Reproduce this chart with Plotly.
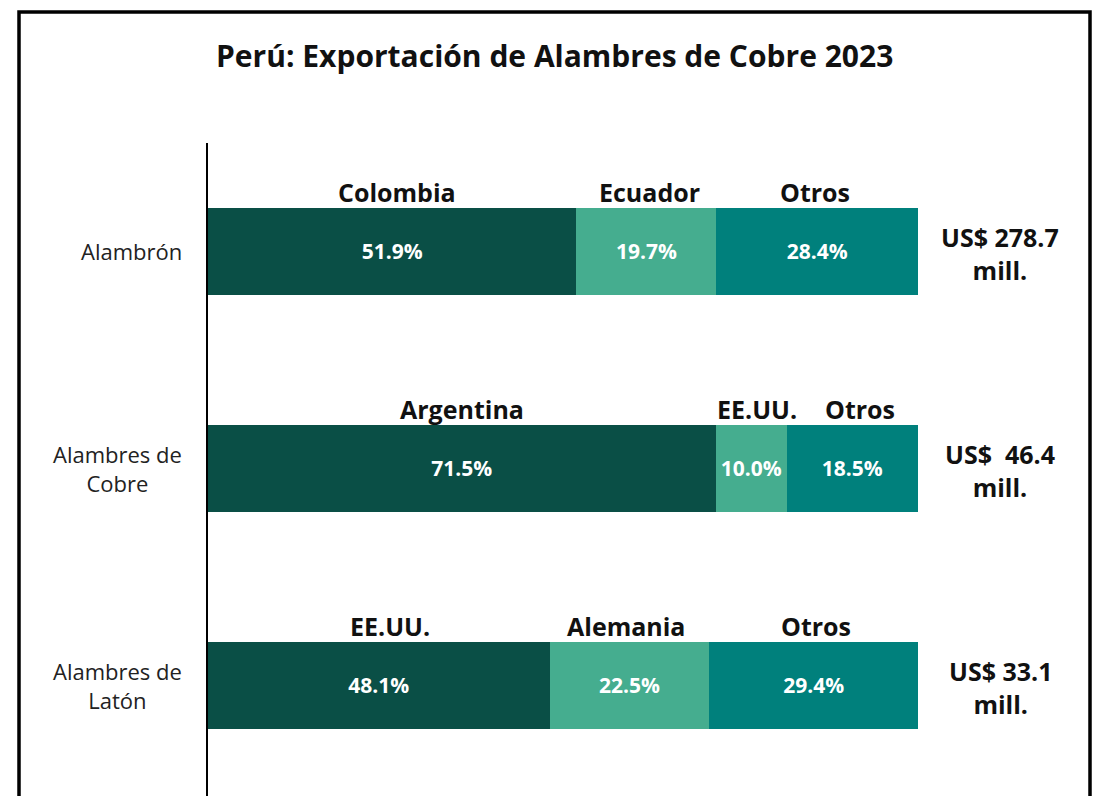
import plotly.graph_objects as go

categories = ["Alambrón", "Alambres de<br>Cobre", "Alambres de<br>Latón"]
seg1_names = ["Colombia", "Argentina", "EE.UU."]
seg2_names = ["Ecuador", "EE.UU.", "Alemania"]
seg3_names = ["Otros", "Otros", "Otros"]
seg1_vals = [51.9, 71.5, 48.1]
seg2_vals = [19.7, 10.0, 22.5]
seg3_vals = [28.4, 18.5, 29.4]
totals = ["US$ 278.7<br>mill.", "US$  46.4<br>mill.", "US$ 33.1<br>mill."]
title = "Perú: Exportación de Alambres de Cobre 2023"

colors = ["#0a4f46", "#45ad8f", "#00807c"]
FONT = "Open Sans"

W, H = 1095, 796
L, R, T, B = 208, 177, 143, 0

ypos = [0, 1, 2]
fig = go.Figure()
for vals, col in zip([seg1_vals, seg2_vals, seg3_vals], colors):
    fig.add_trace(go.Bar(
        y=ypos, x=vals, orientation="h", width=0.4,
        marker=dict(color=col, line=dict(width=0)),
        text=[f"{v:.1f}%" for v in vals],
        textposition="inside", insidetextanchor="middle",
        constraintext="none",
        textfont=dict(family=FONT, size=21, color="white", weight="bold"),
        hoverinfo="skip",
    ))

annotations = []
shifts = [[5, 3, -2], [0, 6, 8], [11, -3, 2]]
for i in range(3):
    starts = [0, seg1_vals[i], seg1_vals[i] + seg2_vals[i]]
    widths = [seg1_vals[i], seg2_vals[i], seg3_vals[i]]
    names = [seg1_names[i], seg2_names[i], seg3_names[i]]
    for j in range(3):
        annotations.append(dict(
            x=starts[j] + widths[j] / 2, y=ypos[i] - 0.2, xref="x", yref="y",
            text=names[j], showarrow=False, xanchor="center", yanchor="bottom",
            xshift=shifts[i][j], yshift=-3,
            font=dict(family=FONT, size=25, color="#111111", weight="bold"),
        ))
    annotations.append(dict(
        x=0, y=ypos[i], xref="paper", yref="y", text=categories[i],
        showarrow=False, xanchor="right", yanchor="middle", align="center",
        xshift=-24, font=dict(family=FONT, size=22, color="#222222"),
    ))
    annotations.append(dict(
        x=1, y=ypos[i], xref="paper", yref="y", text=totals[i],
        showarrow=False, xanchor="center", yanchor="middle", align="center",
        xshift=82, yshift=-2,
        font=dict(family=FONT, size=25, color="#111111", weight="bold"),
    ))

annotations.append(dict(
    x=(554 - L) / (W - L - R), y=(H - B - 56) / (H - T - B), xref="paper", yref="paper",
    text=title, showarrow=False, xanchor="center", yanchor="middle",
    font=dict(family=FONT, size=30, color="#111111", weight="bold"),
))

pw = W - L - R
ph = H - T - B
def px_x(p):
    return (p - L) / pw
def px_y(p):
    return (H - B - p) / ph

shapes = [
    dict(type="rect", xref="paper", yref="paper",
         x0=px_x(19), x1=px_x(1090), y0=px_y(812), y1=px_y(12),
         line=dict(color="black", width=3.5), fillcolor="rgba(0,0,0,0)", layer="above"),
]

fig.update_layout(
    width=W, height=H, barmode="stack", showlegend=False,
    margin=dict(l=L, r=R, t=T, b=B, pad=0),
    plot_bgcolor="white", paper_bgcolor="white",
    xaxis=dict(range=[0, 100], visible=False, fixedrange=True),
    yaxis=dict(range=[2.51, -0.5], showticklabels=False, showgrid=False, zeroline=False,
               showline=True, linecolor="black", linewidth=1.5, ticks=""),
    annotations=annotations, shapes=shapes,
    bargap=0.6,
)

fig.write_html("out.html", config={"displayModeBar": False},
               post_script="document.body.style.margin='0';document.body.style.overflow='hidden';")
